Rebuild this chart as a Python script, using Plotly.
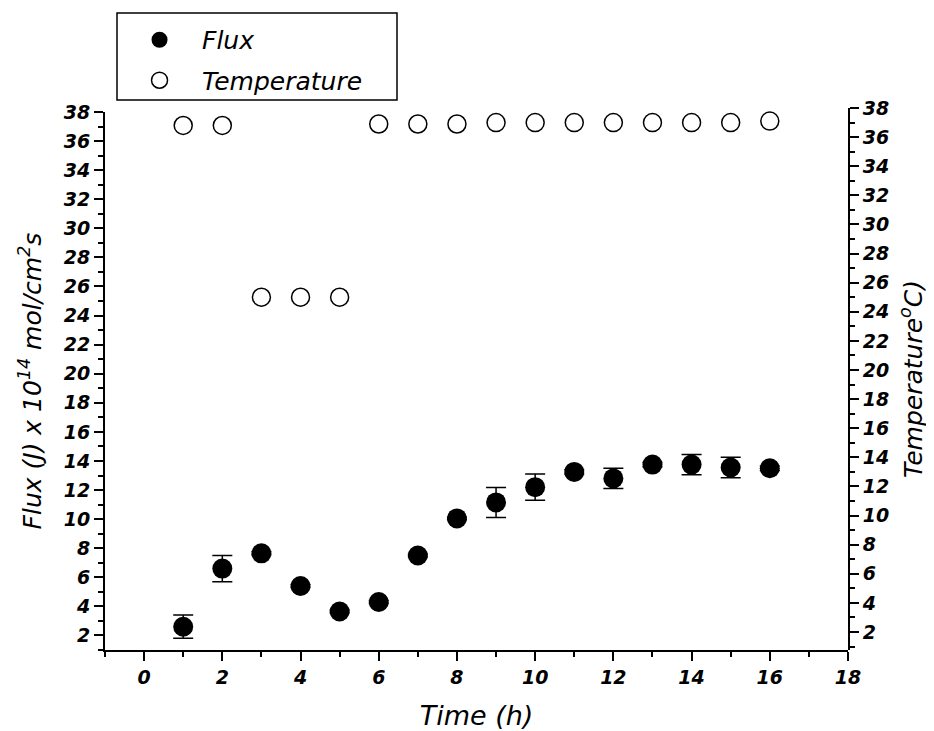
import plotly.graph_objects as go

time_h = [1, 2, 3, 4, 5, 6, 7, 8, 9, 10, 11, 12, 13, 14, 15, 16]
flux = [2.6, 6.6, 7.65, 5.4, 3.65, 4.3, 7.5, 10.05, 11.15, 12.2, 13.25, 12.8, 13.75, 13.75, 13.55, 13.5]
flux_err = [0.8, 0.9, 0.12, 0.1, 0.1, 0.1, 0.1, 0.1, 1.03, 0.9, 0.15, 0.7, 0.15, 0.7, 0.7, 0.15]
temperature = [36.8, 36.8, 25.0, 25.0, 25.0, 36.9, 36.9, 36.9, 37.0, 37.0, 37.0, 37.0, 37.0, 37.0, 37.0, 37.1]

x_ticks = list(range(0, 19, 2))
y_ticks = list(range(2, 39, 2))

FONT = "DejaVu Sans, Liberation Sans, Arial, sans-serif"
tickfont = dict(family=FONT, size=19, color="black", style="italic", weight="bold")
titlefont = dict(family=FONT, size=25, color="black", style="italic")

fig = go.Figure()
fig.add_trace(go.Scatter(
    x=time_h, y=flux, mode="markers", name="Flux", legendgroup="a",
    marker=dict(symbol="circle", size=20, color="black"),
    error_y=dict(type="data", array=flux_err, visible=True, color="black", thickness=1.5, width=10),
    xaxis="x", yaxis="y",
))
fig.add_trace(go.Scatter(
    x=time_h, y=temperature, mode="markers", name="Temperature", legendgroup="b",
    marker=dict(symbol="circle", size=18, color="white", line=dict(color="black", width=1.5)),
    xaxis="x", yaxis="y2",
))

minor = dict(dtick=1, tick0=0, ticks="outside", ticklen=5, tickwidth=2, tickcolor="black")
axis_common = dict(showline=True, linecolor="black", linewidth=2, ticks="outside",
                   ticklen=9, tickwidth=2, tickcolor="black", showgrid=False, zeroline=False,
                   tickfont=tickfont)

# legend frame
fig.add_shape(type="rect", xref="paper", yref="paper",
              x0=0.01615, x1=0.3930, y0=1.0148, y1=1.1753,
              line=dict(color="black", width=1.5), fillcolor="rgba(0,0,0,0)")

# page body adds an 8px margin, so the figure is sized to compensate
fig.update_layout(
    width=926, height=723,
    margin=dict(l=97, r=86, t=100, b=81, autoexpand=False),
    plot_bgcolor="rgba(0,0,0,0)", paper_bgcolor="white",
    showlegend=True,
    legend=dict(x=0.0162, y=1.1679, xanchor="left", yanchor="top",
                borderwidth=0, bgcolor="rgba(0,0,0,0)",
                font=dict(family=FONT, size=25, color="black", style="italic"),
                itemwidth=75, tracegroupgap=5),
    xaxis=dict(range=[-1, 18], tickvals=x_ticks, ticktext=[str(v) for v in x_ticks],
               anchor="y",
               title=dict(text="Time (h)", font=dict(family=FONT, size=27, color="black", style="italic"), standoff=23),
               minor=minor, **axis_common),
    yaxis=dict(range=[1, 38], domain=[0, 0.99262], anchor="x",
               tickvals=y_ticks, ticktext=[str(v) for v in y_ticks],
               title=dict(text="Flux (J) x 10<sup>14</sup> mol/cm<sup>2</sup>s", font=titlefont, standoff=15),
               minor=minor, **axis_common),
    yaxis2=dict(range=[0.764, 38], domain=[0, 1], side="right", anchor="x",
                tickvals=y_ticks, ticktext=[str(v) for v in y_ticks],
                title=dict(text="Temperature<sup>o</sup>C)", font=titlefont, standoff=16),
                minor=minor, **axis_common),
)

fig.write_html("out.html")
